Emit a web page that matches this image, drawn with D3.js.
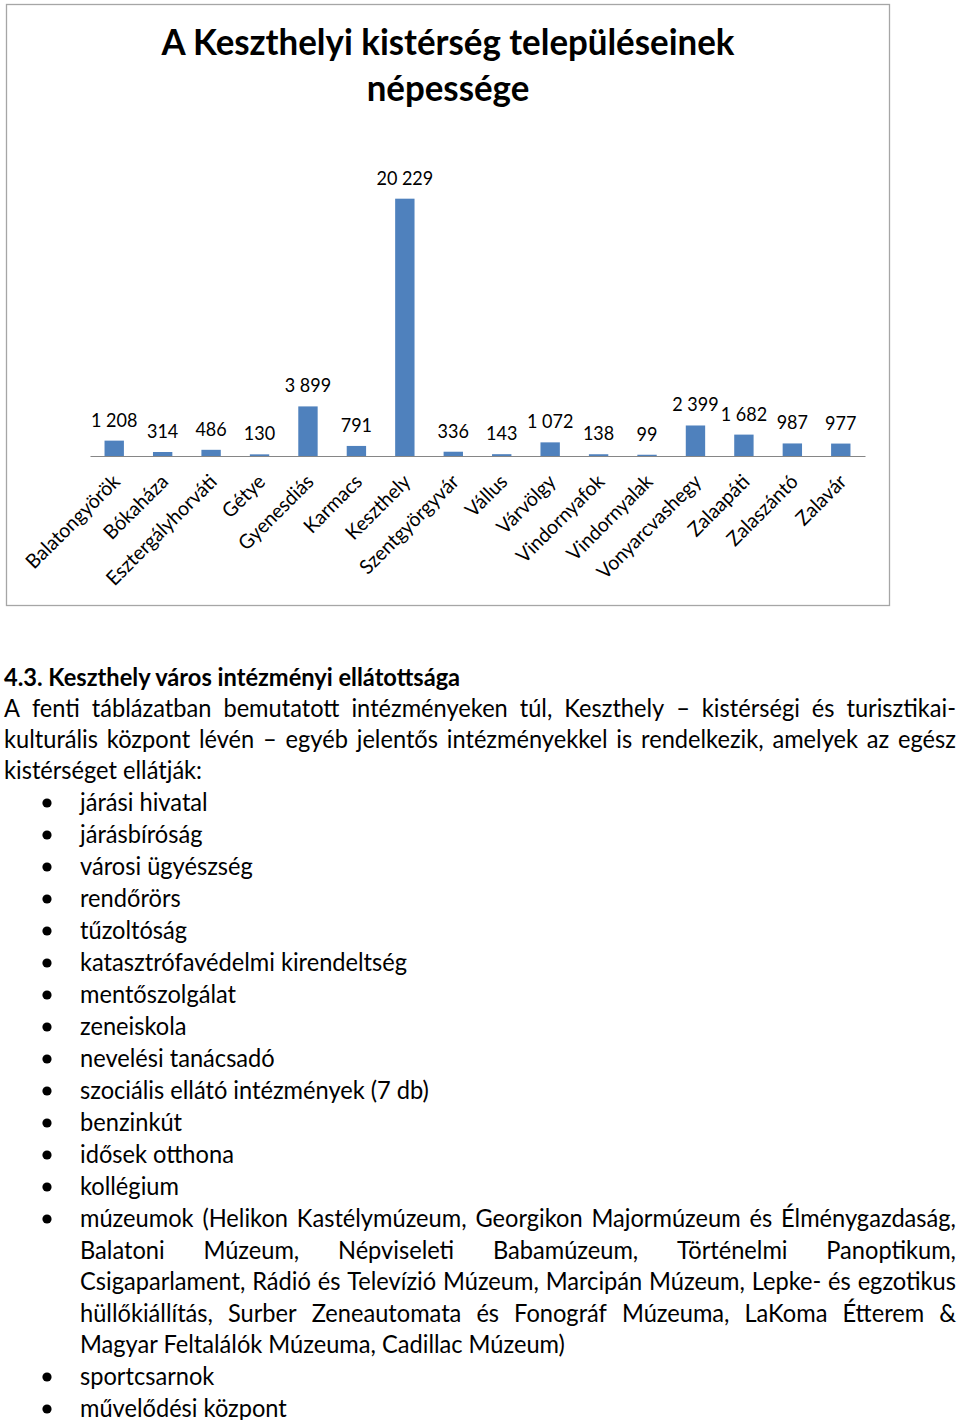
<!DOCTYPE html>
<html>
<head>
<meta charset="utf-8">
<script src="https://cdn.jsdelivr.net/npm/d3@7"></script>
<style>
  html, body { margin: 0; padding: 0; background: #fff; }
  svg { display: block; }
</style>
</head>
<body>
<svg id="page" width="960" height="1420"></svg>
<script>
// ---------- DATA ----------
const chartTitle = ["A Keszthelyi kistérség településeinek", "népessége"];
const categories = ["Balatongyörök", "Bókaháza", "Esztergályhorváti", "Gétye", "Gyenesdiás",
  "Karmacs", "Keszthely", "Szentgyörgyvár", "Vállus", "Várvölgy", "Vindornyafok",
  "Vindornyalak", "Vonyarcvashegy", "Zalaapáti", "Zalaszántó", "Zalavár"];
const population = [1208, 314, 486, 130, 3899, 791, 20229, 336, 143, 1072, 138, 99, 2399, 1682, 987, 977];

const heading = "4.3. Keszthely város intézményi ellátottsága";
const introLines = [
  "A fenti táblázatban bemutatott intézményeken túl, Keszthely – kistérségi és turisztikai-",
  "kulturális központ lévén – egyéb jelentős intézményekkel is rendelkezik, amelyek az egész",
  "kistérséget ellátják:"
];
const listItems = [
  ["járási hivatal"],
  ["járásbíróság"],
  ["városi ügyészség"],
  ["rendőrörs"],
  ["tűzoltóság"],
  ["katasztrófavédelmi kirendeltség"],
  ["mentőszolgálat"],
  ["zeneiskola"],
  ["nevelési tanácsadó"],
  ["szociális ellátó intézmények (7 db)"],
  ["benzinkút"],
  ["idősek otthona"],
  ["kollégium"],
  ["múzeumok (Helikon Kastélymúzeum, Georgikon Majormúzeum és Élménygazdaság,",
   "Balatoni Múzeum, Népviseleti Babamúzeum, Történelmi Panoptikum,",
   "Csigaparlament, Rádió és Televízió Múzeum, Marcipán Múzeum, Lepke- és egzotikus",
   "hüllőkiállítás, Surber Zeneautomata és Fonográf Múzeuma, LaKoma Étterem &",
   "Magyar Feltalálók Múzeuma, Cadillac Múzeum)"],
  ["sportcsarnok"],
  ["művelődési központ"]
];

// ---------- STYLE / LAYOUT ----------
const FONT = "Lato, 'Open Sans', sans-serif";
const K_BODY = 0.945;   // horizontal scaling to mimic Calibri metrics
const K_TITLE = 0.982;
const K_VAL = 0.9;
const K_CAT = 0.97;
const svg = d3.select("#page");

function condense(sel, k) {
  sel.each(function () {
    const w = this.getComputedTextLength();
    d3.select(this).attr("textLength", w * k).attr("lengthAdjust", "spacingAndGlyphs");
  });
  return sel;
}

// ---------- CHART ----------
const chart = { left: 6, top: 4, right: 889, bottom: 605 };
svg.append("rect")
  .attr("x", chart.left + 0.5).attr("y", chart.top + 0.5)
  .attr("width", chart.right - chart.left).attr("height", chart.bottom - chart.top)
  .attr("fill", "#fff").attr("stroke", "#a6a6a6").attr("stroke-width", 1.3);

const titleG = svg.append("g");
chartTitle.forEach((t, i) => {
  titleG.append("text")
    .attr("x", 448).attr("y", 55 + i * 46)
    .attr("text-anchor", "middle")
    .attr("font-family", FONT).attr("font-weight", "bold").attr("font-size", 35.5)
    .attr("fill", "#000").text(t)
    .call(condense, K_TITLE);
});

const x = d3.scaleBand().domain(categories).range([90, 865]).paddingInner(0.6).paddingOuter(0.3);
const y = d3.scaleLinear().domain([0, 25000]).range([456, 138]);
const fmt = v => d3.format(",")(v).replace(/,/g, " ");

svg.append("g").selectAll("rect").data(population).join("rect")
  .attr("x", (d, i) => x(categories[i]))
  .attr("y", d => y(d))
  .attr("width", x.bandwidth())
  .attr("height", d => y(0) - y(d))
  .attr("fill", "#4f81bd");

svg.append("g").selectAll("text").data(population).join("text")
  .attr("x", (d, i) => x(categories[i]) + x.bandwidth() / 2)
  .attr("y", d => y(d) - 14)
  .attr("text-anchor", "middle")
  .attr("font-family", FONT).attr("font-size", 20).attr("fill", "#000")
  .text(d => fmt(d))
  .call(condense, K_VAL);

// x axis
const xAxis = svg.append("g").attr("transform", `translate(0,${y(0)})`)
  .call(d3.axisBottom(x).tickSize(0).tickPadding(0));
xAxis.select(".domain").attr("stroke", "#868686").attr("stroke-width", 1.2);
xAxis.selectAll(".tick text")
  .attr("font-family", FONT).attr("font-size", 20).attr("fill", "#000")
  .attr("text-anchor", "end")
  .attr("dy", 0).attr("y", 0)
  .attr("transform", "translate(7,27) rotate(-45)")
  .call(condense, K_CAT);

// ---------- BODY TEXT ----------
const body = svg.append("g").attr("font-family", FONT).attr("fill", "#000");
const BODY_SIZE = 25;

function justifyLine(g, str, x0, x1, yb) {
  const words = str.split(" ");
  const nodes = words.map(w => g.append("text").attr("y", yb).attr("font-size", BODY_SIZE).text(w).call(condense, K_BODY));
  const widths = nodes.map(n => +n.attr("textLength"));
  const total = d3.sum(widths);
  const gap = (x1 - x0 - total) / (words.length - 1);
  let cx = x0;
  nodes.forEach((n, i) => { n.attr("x", cx); cx += widths[i] + gap; });
}
function plainLine(g, str, x0, yb, bold) {
  g.append("text").attr("x", x0).attr("y", yb).attr("font-size", BODY_SIZE)
    .attr("font-weight", bold ? "bold" : null).text(str).call(condense, K_BODY);
}

plainLine(body, heading, 4, 686, true);
introLines.forEach((l, i) => {
  const yb = 717 + i * 31;
  if (i < introLines.length - 1) justifyLine(body, l, 4, 956, yb);
  else plainLine(body, l, 4, yb);
});

let yb = 811;
listItems.forEach(item => {
  body.append("circle").attr("cx", 47).attr("cy", yb - 8).attr("r", 4.6).attr("fill", "#000");
  item.forEach((l, j) => {
    if (item.length > 1 && j < item.length - 1) justifyLine(body, l, 80, 956, yb);
    else plainLine(body, l, 80, yb);
    if (j < item.length - 1) yb += 31.5;
  });
  yb += 32;
});
</script>
</body>
</html>
